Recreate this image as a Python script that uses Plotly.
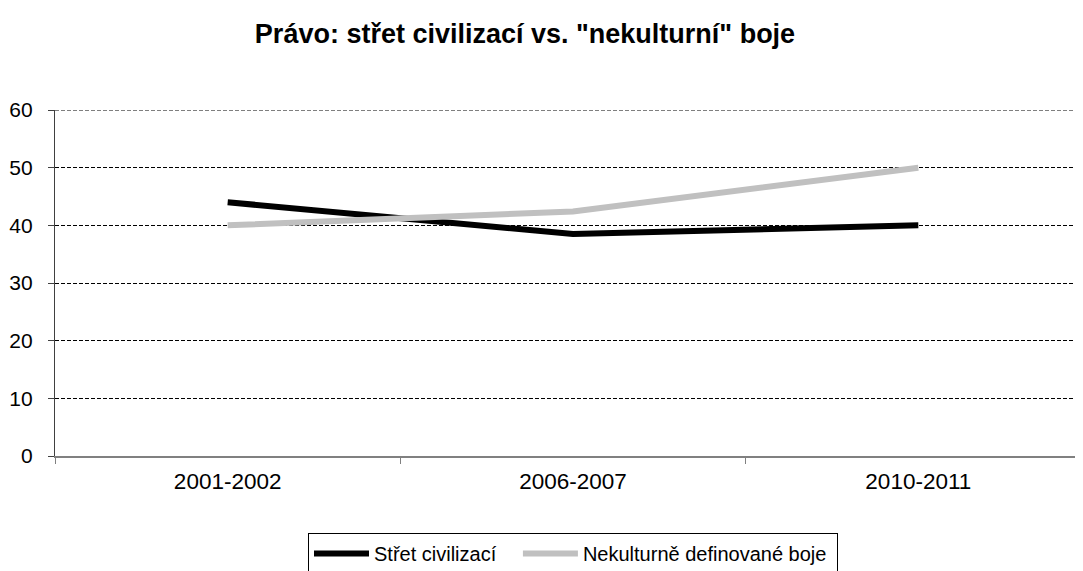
import plotly.graph_objects as go

categories = ["2001-2002", "2006-2007", "2010-2011"]
stret_civilizaci = [44, 38.5, 40]
nekulturne_boje = [40, 42.4, 50]
y_ticks = [0, 10, 20, 30, 40, 50, 60]

FONT = "Arial, 'Liberation Sans', sans-serif"

# the page body has an 8px margin, so figure coords = screen coords - 8
L, T = 47, 102
PLOT_H = 346
W, H = 1083, 571

fig = go.Figure()
fig.add_trace(go.Scatter(
    x=categories, y=stret_civilizaci, mode="lines",
    name="Střet civilizací\u00a0\u00a0\u00a0",
    line=dict(color="#000000", width=6), hoverinfo="x+y"))
fig.add_trace(go.Scatter(
    x=categories, y=nekulturne_boje, mode="lines",
    name="Nekulturně definované boje\u00a0",
    line=dict(color="#C0C0C0", width=6), hoverinfo="x+y"))

# top gridline (plotly drops the gridline lying on the plot edge)
fig.add_hline(y=60, line=dict(color="#000000", width=1, dash="4px,2px"), layer="below")

fig.update_layout(
    width=W, height=H,
    margin=dict(l=L, r=0, t=T, b=H - T - PLOT_H),
    paper_bgcolor="white", plot_bgcolor="white",
    font=dict(family=FONT, size=21, color="#000000"),
    title=dict(text="<b>Právo: střet civilizací vs. \"nekulturní\" boje</b>",
               x=517 / W, xanchor="center", y=1 - 26 / H, yanchor="middle",
               font=dict(size=27, family=FONT, color="#000000")),
    showlegend=True,
    legend=dict(orientation="h", x=(300 - L) / (W - L), xanchor="left",
                y=-(525 - (T + PLOT_H)) / PLOT_H, yanchor="top",
                bordercolor="#000000", borderwidth=1,
                font=dict(size=20, family=FONT), itemwidth=55,
                bgcolor="white"),
)
fig.update_xaxes(
    type="category", range=[-0.5, 2.5],
    showline=True, linecolor="#808080", linewidth=1.5,
    ticks="outside", tickson="boundaries", ticklen=6, tickcolor="#808080",
    showgrid=False, zeroline=False, ticklabelstandoff=4,
    tickfont=dict(size=22.5))
fig.update_yaxes(
    range=[0, 60], tickvals=y_ticks,
    showline=True, linecolor="#404040", linewidth=1.2,
    ticks="outside", ticklen=6, tickcolor="#404040",
    showgrid=True, gridcolor="#000000", gridwidth=1, griddash="4px,2px",
    zeroline=False, ticklabelstandoff=11)

fig.write_html("out.html")
